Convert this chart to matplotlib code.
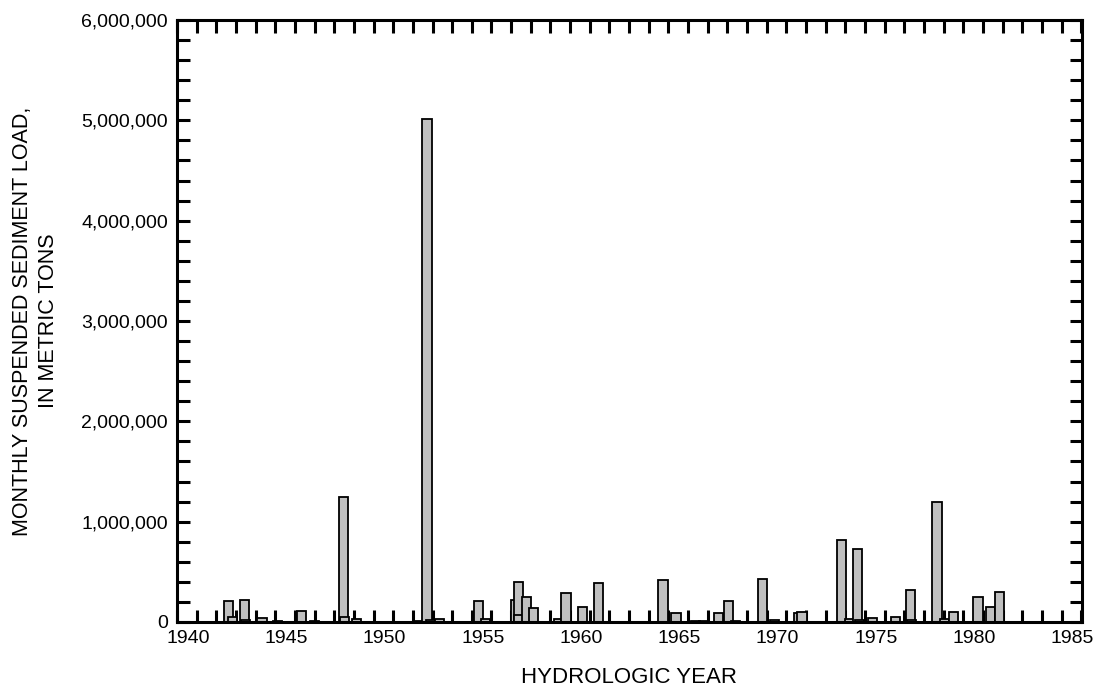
import matplotlib
matplotlib.use("Agg")
import matplotlib.pyplot as plt
import matplotlib.transforms as mtransforms
from matplotlib.ticker import FuncFormatter, MultipleLocator


# Monthly suspended sediment load bars, in drawing order (later bars sit in front)
bar_year = [
    1942.62, 1942.83, 1943.44, 1943.49, 1944.33, 1945.10, 1946.34, 1947.00,
    1948.48, 1948.53, 1949.14, 1952.25, 1952.72, 1952.91, 1953.37, 1955.35,
    1955.71, 1957.25, 1957.37, 1957.39, 1957.79, 1958.15, 1959.40, 1959.79,
    1960.63, 1961.46, 1964.72, 1965.39, 1966.39, 1966.80, 1967.55, 1968.06,
    1968.43, 1969.80, 1970.38, 1971.61, 1971.80, 1973.80, 1974.21, 1974.61,
    1974.74, 1975.38, 1976.55, 1977.30, 1977.36, 1978.66, 1979.04, 1979.51,
    1980.75, 1981.38, 1981.83,
]
bar_load = [
    210000, 47000, 220000, 15000, 37000, 8000, 113000, 5000,
    1245000, 50000, 25000, 5000, 5010000, 20000, 30000, 212000,
    30000, 220000, 402000, 70000, 246000, 135000, 30000, 292000,
    150000, 385000, 420000, 87000, 12000, 8000, 90000, 212000,
    6000, 427000, 20000, 88000, 103000, 820000, 27000, 727000,
    20000, 37000, 53000, 320000, 20000, 1195000, 25000, 97000,
    246000, 153000, 302000,
]

x_labels = [1940, 1945, 1950, 1955, 1960, 1965, 1970, 1975, 1980, 1985]
y_major = [0, 1000000, 2000000, 3000000, 4000000, 5000000, 6000000]

plt.rcParams["font.family"] = ["Liberation Sans", "DejaVu Sans"]

fig = plt.figure(figsize=(11, 6.9), dpi=100)
ax = fig.add_axes([0.1609, 0.0986, 0.8227, 0.8724])

ax.bar(bar_year, bar_load, width=0.47, color="#c0c0c0", edgecolor="black",
       linewidth=1.3, align="center", zorder=2)

ax.set_xlim(1940, 1986.04)
ax.set_ylim(0, 6000000)

ax.set_xticks(x_labels)
ax.set_xticklabels([str(v) for v in x_labels])
ax.xaxis.set_minor_locator(MultipleLocator(1))
ax.set_yticks(y_major)
ax.yaxis.set_major_formatter(FuncFormatter(lambda v, p: f"{int(v):,}"))
ax.yaxis.set_minor_locator(MultipleLocator(200000))

ax.tick_params(axis="both", which="both", direction="in", width=2.2,
               length=9, top=True, right=True, labelsize=14, colors="black")
ax.tick_params(axis="y", which="both", pad=6.5)
ax.tick_params(axis="x", which="both", pad=5.5)

# year labels sit a little right of their tick marks
shift = mtransforms.ScaledTranslation(11 / 100, 0, fig.dpi_scale_trans)
for lab in ax.get_xticklabels():
    lab.set_transform(lab.get_transform() + shift)

for side in ax.spines.values():
    side.set_linewidth(2.2)

ax.set_xlabel("HYDROLOGIC YEAR", fontsize=16, labelpad=15)
ax.set_ylabel("MONTHLY SUSPENDED SEDIMENT LOAD,\nIN METRIC TONS", fontsize=15.5,
              labelpad=16, linespacing=1.3)

fig.savefig("out.png", dpi=100)
